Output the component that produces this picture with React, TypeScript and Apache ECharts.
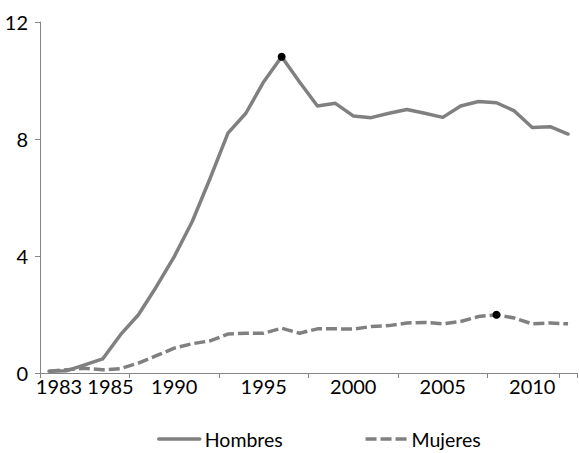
import React, { useEffect, useRef } from "react";
import * as echarts from "echarts";

const years: string[] = [
  "1983", "1984", "1985", "1986", "1987", "1988", "1989", "1990", "1991", "1992",
  "1993", "1994", "1995", "1996", "1997", "1998", "1999", "2000", "2001", "2002",
  "2003", "2004", "2005", "2006", "2007", "2008", "2009", "2010", "2011", "2012",
];

// Tick labels as they appear under the axis (by category index)
const xTickLabels: Record<number, string> = {
  2: "1983 1985",
  7: "1990",
  12: "1995",
  17: "2000",
  22: "2005",
  27: "2010",
};

const hombres: number[] = [
  0.06, 0.08, 0.28, 0.48, 1.31, 1.99, 2.95, 3.98, 5.17, 6.65,
  8.2, 8.88, 9.96, 10.81, 9.95, 9.13, 9.22, 8.79, 8.73, 8.88,
  9.01, 8.88, 8.74, 9.13, 9.28, 9.24, 8.96, 8.39, 8.42, 8.17,
];

const mujeres: number[] = [
  0.06, 0.11, 0.16, 0.11, 0.15, 0.34, 0.59, 0.85, 1.0, 1.1,
  1.33, 1.36, 1.36, 1.53, 1.36, 1.51, 1.51, 1.5, 1.59, 1.62,
  1.71, 1.73, 1.68, 1.76, 1.93, 1.99, 1.88, 1.68, 1.71, 1.68,
];

const yTicks = { min: 0, max: 12, interval: 4 };
const hombresPeakIndex = 13;
const mujeresPeakIndex = 25;

const FONT = "Lato, 'Open Sans', sans-serif";
const GRAY = "#808080";
const AXIS_GRAY = "#868686";

function peakMark(values: number[], idx: number) {
  return {
    silent: true,
    symbol: "circle",
    symbolSize: 8,
    itemStyle: { color: "#000", borderWidth: 0 },
    label: { show: false },
    data: [{ coord: [idx, values[idx]] }],
  };
}

export default function App() {
  const ref = useRef<HTMLDivElement>(null);

  useEffect(() => {
    if (!ref.current) return;
    const chart = echarts.init(ref.current, undefined, { renderer: "svg" });
    chart.setOption({
      animation: false,
      backgroundColor: "#fff",
      textStyle: { fontFamily: FONT },
      grid: { left: 40, right: 2, top: 22, bottom: 80, containLabel: false },
      legend: {
        left: 152,
        top: 424,
        itemWidth: 41,
        itemHeight: 14,
        itemGap: 81,
        itemStyle: { opacity: 0 },
        lineStyle: { width: 3.5 },
        textStyle: { fontFamily: FONT, fontSize: 19.5, color: "#000" },
        data: ["Hombres", "Mujeres"],
      },
      xAxis: {
        type: "category",
        data: years,
        boundaryGap: true,
        axisLine: { show: true, lineStyle: { color: AXIS_GRAY, width: 1 } },
        axisTick: {
          show: true,
          interval: 4,
          length: 5,
          lineStyle: { color: AXIS_GRAY },
        },
        axisLabel: {
          interval: 0,
          margin: 3,
          fontFamily: FONT,
          fontSize: 20,
          color: "#000",
          formatter: (_v: string, idx: number) => xTickLabels[idx] ?? "",
        },
        splitLine: { show: false },
      },
      yAxis: {
        type: "value",
        min: yTicks.min,
        max: yTicks.max,
        interval: yTicks.interval,
        axisLine: { show: true, lineStyle: { color: AXIS_GRAY, width: 1 } },
        axisTick: { show: true, length: 5, lineStyle: { color: AXIS_GRAY } },
        axisLabel: {
          margin: 12,
          fontFamily: FONT,
          fontSize: 20,
          color: "#000",
        },
        splitLine: { show: false },
      },
      series: [
        {
          name: "Hombres",
          type: "line",
          data: hombres,
          symbol: "none",
          showSymbol: false,
          color: GRAY,
          lineStyle: { color: GRAY, width: 3.5, cap: "round", join: "round" },
          markPoint: peakMark(hombres, hombresPeakIndex),
          z: 2,
        },
        {
          name: "Mujeres",
          type: "line",
          data: mujeres,
          symbol: "none",
          showSymbol: false,
          color: GRAY,
          lineStyle: { color: GRAY, width: 3.5, type: [11, 4], join: "round" },
          markPoint: peakMark(mujeres, mujeresPeakIndex),
          z: 2,
        },
      ],
    });
    return () => chart.dispose();
  }, []);

  return (
    <div
      ref={ref}
      style={{ position: "absolute", left: 0, top: 0, width: 579, height: 453 }}
    />
  );
}
